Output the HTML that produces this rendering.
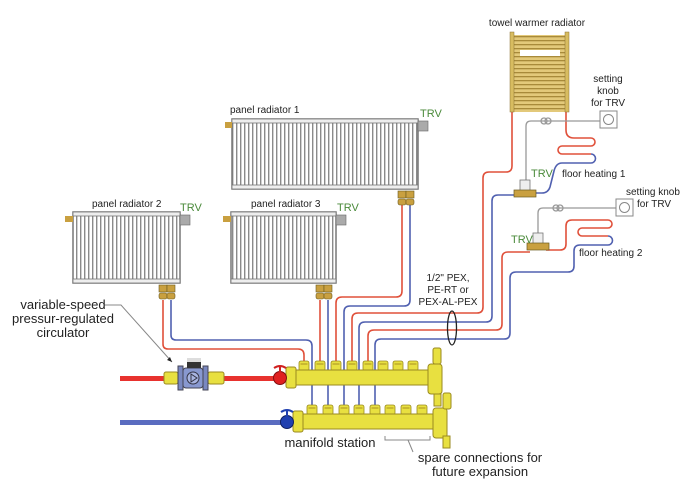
<!DOCTYPE html>
<html><head><meta charset="utf-8"><style>
html,body{margin:0;padding:0;background:#fff;}
svg{display:block;font-family:"Liberation Sans",sans-serif;}
</style></head><body>
<svg width="692" height="503" viewBox="0 0 692 503" xmlns="http://www.w3.org/2000/svg">
<defs>
<pattern id="fins" width="4" height="10" patternUnits="userSpaceOnUse">
<rect width="4" height="10" fill="#fff"/><rect x="0" width="1.4" height="10" fill="#8a8a8a"/>
</pattern>
<pattern id="tw" width="10" height="4" patternUnits="userSpaceOnUse">
<rect width="10" height="4" fill="#e3c97a"/><rect y="0" width="10" height="1.3" fill="#a88a3a"/>
</pattern>
<g id="fit"><rect x="-5" y="0" width="10" height="10" rx="2" fill="#e8e040" stroke="#9a8a20" stroke-width="0.8"/><rect x="-3.5" y="2" width="7" height="2" fill="#c9b830"/></g>
<g id="rv"><rect x="-4" y="0" width="8" height="7" fill="#c9a040" stroke="#6a5a20" stroke-width="0.6"/><rect x="-4" y="8" width="8" height="6" rx="2" fill="#c9a040" stroke="#6a5a20" stroke-width="0.6"/></g>
</defs>

<!-- pipes (thin) -->
<g fill="none" stroke-width="1.6">
<path d="M163 300 V344 q0 5 5 5 H298 q6 0 6 6 V362" stroke="#e0503a"/>
<path d="M171 300 V335 q0 5 5 5 H306 q6 0 6 6 V408" stroke="#5060b0"/>
<path d="M320 300 V362" stroke="#e0503a"/>
<path d="M328 300 V408" stroke="#5060b0"/>
<path d="M402 205 V291 q0 6 -6 6 H342 q-6 0 -6 6 V362" stroke="#e0503a"/>
<path d="M410 205 V300 q0 6 -6 6 H350 q-6 0 -6 6 V408" stroke="#5060b0"/>
<path d="M512 112 V166 q0 6 -6 6 H489 q-6 0 -6 6 V307 q0 6 -6 6 H358 q-6 0 -6 6 V362" stroke="#e0503a"/>
<path d="M518 195 H498 q-6 0 -6 6 V316 q0 6 -6 6 H365 q-6 0 -6 6 V408" stroke="#5060b0"/>
<path d="M530 252 H508 q-6 0 -6 6 V324 q0 6 -6 6 H374 q-6 0 -6 6 V362" stroke="#e0503a"/>
<path d="M566 112 V130 q0 8 8 8 H591 a4 4 0 0 1 0 8 H562 a4 4 0 0 0 0 8 H591" stroke="#e0503a"/>
<path d="M591 154 a4.5 4.5 0 0 1 0 9 H562 q-6 0 -8 8 L550 187 q-2 6 -8 6 H534" stroke="#5060b0"/>
<path d="M546 250 H560 q6 0 6 -6 V226 q0 -6 6 -6 H608 a4 4 0 0 1 0 8 H582 a4 4 0 0 0 0 8 H608" stroke="#e0503a"/>
<path d="M608 236 a4.5 4.5 0 0 1 0 9 H580 q-6 0 -6 6 V266 q0 6 -6 6 H516 q-6 0 -6 6 V333 q0 6 -6 6 H381 q-6 0 -6 6 V408" stroke="#5060b0"/>
</g>
<!-- capillaries -->
<g fill="none" stroke="#999" stroke-width="1.3">
<path d="M600 121 H531 q-5 0 -5 5 V180"/>
<path d="M616 208 H543 q-5 0 -5 5 V233"/>
<circle cx="544" cy="121" r="3"/><circle cx="548" cy="121" r="3"/>
<circle cx="556" cy="208" r="3"/><circle cx="560" cy="208" r="3"/>
</g>
<rect x="600" y="111" width="17" height="17" fill="#fff" stroke="#888"/><circle cx="608.5" cy="119.5" r="5" fill="none" stroke="#888"/>
<rect x="616" y="199" width="17" height="17" fill="#fff" stroke="#888"/><circle cx="624.5" cy="207.5" r="5" fill="none" stroke="#888"/>
<!-- TRV valves for floor heating -->
<rect x="520" y="180" width="10" height="11" fill="#eee" stroke="#777" stroke-width="0.8"/>
<rect x="514" y="190" width="22" height="7" fill="#c9a040" stroke="#6a5a20" stroke-width="0.7"/>
<rect x="533" y="233" width="10" height="11" fill="#eee" stroke="#777" stroke-width="0.8"/>
<rect x="527" y="243" width="22" height="7" fill="#c9a040" stroke="#6a5a20" stroke-width="0.7"/>

<!-- towel radiator -->
<rect x="513" y="35" width="53" height="77" fill="url(#tw)"/>
<rect x="520" y="50" width="40" height="6" fill="#fff"/>
<rect x="510" y="32" width="4" height="80" fill="#d8bc60" stroke="#8a7030" stroke-width="0.5"/>
<rect x="565" y="32" width="4" height="80" fill="#d8bc60" stroke="#8a7030" stroke-width="0.5"/>

<!-- panel radiators -->
<rect x="232" y="119" width="186" height="70" fill="url(#fins)" stroke="#777" stroke-width="1.5"/>
<rect x="232" y="119" width="186" height="4" fill="#eee" stroke="#777" stroke-width="0.8"/>
<rect x="232" y="185" width="186" height="4" fill="#eee" stroke="#777" stroke-width="0.8"/>
<rect x="225" y="122" width="7" height="6" fill="#c9a040"/>
<rect x="418" y="121" width="10" height="10" fill="#aaa" stroke="#666" stroke-width="0.6"/>
<use href="#rv" x="402" y="191"/><use href="#rv" x="410" y="191"/>

<rect x="73" y="212" width="107" height="71" fill="url(#fins)" stroke="#777" stroke-width="1.5"/>
<rect x="73" y="212" width="107" height="4" fill="#eee" stroke="#777" stroke-width="0.8"/>
<rect x="73" y="279" width="107" height="4" fill="#eee" stroke="#777" stroke-width="0.8"/>
<rect x="65" y="216" width="8" height="6" fill="#c9a040"/>
<rect x="180" y="215" width="10" height="10" fill="#aaa" stroke="#666" stroke-width="0.6"/>
<use href="#rv" x="163" y="285"/><use href="#rv" x="171" y="285"/>

<rect x="231" y="212" width="105" height="71" fill="url(#fins)" stroke="#777" stroke-width="1.5"/>
<rect x="231" y="212" width="105" height="4" fill="#eee" stroke="#777" stroke-width="0.8"/>
<rect x="231" y="279" width="105" height="4" fill="#eee" stroke="#777" stroke-width="0.8"/>
<rect x="223" y="216" width="8" height="6" fill="#c9a040"/>
<rect x="336" y="215" width="10" height="10" fill="#aaa" stroke="#666" stroke-width="0.6"/>
<use href="#rv" x="320" y="285"/><use href="#rv" x="328" y="285"/>

<!-- main pipes -->
<rect x="120" y="376" width="160" height="5" fill="#e8322e"/>
<rect x="120" y="420" width="165" height="5" fill="#5a6cc0"/>
<!-- circulator -->
<rect x="164" y="372" width="14" height="12" rx="2" fill="#e8e040" stroke="#9a8a20"/>
<rect x="208" y="372" width="16" height="12" rx="2" fill="#e8e040" stroke="#9a8a20"/>
<rect x="178" y="366" width="5" height="24" fill="#7a88c0" stroke="#445"/>
<rect x="203" y="366" width="5" height="24" fill="#7a88c0" stroke="#445"/>
<rect x="183" y="368" width="20" height="20" rx="3" fill="#8898d0" stroke="#445"/>
<circle cx="193" cy="378" r="6" fill="#a8b4e0" stroke="#334"/>
<path d="M191 374 L197 378 L191 382 Z" fill="none" stroke="#334"/>
<rect x="187" y="358" width="14" height="10" fill="#333"/><rect x="187" y="358" width="14" height="4" fill="#ddd"/>

<!-- supply manifold -->
<g>
<use href="#fit" x="304" y="361"/><use href="#fit" x="320" y="361"/><use href="#fit" x="336" y="361"/><use href="#fit" x="352" y="361"/><use href="#fit" x="368" y="361"/><use href="#fit" x="383" y="361"/><use href="#fit" x="398" y="361"/><use href="#fit" x="413" y="361"/>
<rect x="290" y="370" width="140" height="15" fill="#e8e040" stroke="#9a8a20"/>
<rect x="286" y="367" width="10" height="21" rx="2" fill="#e8e040" stroke="#9a8a20"/>
<circle cx="280" cy="378" r="6.5" fill="#e02020" stroke="#801010"/>
<path d="M274 368 q6 -4 12 0 M280 366 V372" stroke="#d02020" stroke-width="2" fill="none"/>
<rect x="428" y="364" width="14" height="30" rx="3" fill="#e8e040" stroke="#9a8a20"/>
<rect x="433" y="348" width="8" height="16" rx="2" fill="#e8e040" stroke="#9a8a20"/>
<rect x="434" y="394" width="7" height="12" fill="#e8e040" stroke="#9a8a20"/>
</g>
<!-- return manifold -->
<g>
<use href="#fit" x="312" y="405"/><use href="#fit" x="328" y="405"/><use href="#fit" x="344" y="405"/><use href="#fit" x="359" y="405"/><use href="#fit" x="375" y="405"/><use href="#fit" x="390" y="405"/><use href="#fit" x="406" y="405"/><use href="#fit" x="422" y="405"/>
<rect x="298" y="414" width="136" height="15" fill="#e8e040" stroke="#9a8a20"/>
<rect x="293" y="411" width="10" height="21" rx="2" fill="#e8e040" stroke="#9a8a20"/>
<circle cx="287" cy="422" r="6.5" fill="#2040b0" stroke="#102060"/>
<path d="M281 412 q6 -4 12 0 M287 410 V416" stroke="#2040b0" stroke-width="2" fill="none"/>
<rect x="433" y="408" width="14" height="30" rx="3" fill="#e8e040" stroke="#9a8a20"/>
<rect x="443" y="393" width="8" height="16" rx="2" fill="#e8e040" stroke="#9a8a20"/>
<rect x="443" y="436" width="7" height="12" fill="#e8e040" stroke="#9a8a20"/>
</g>

<!-- ellipse -->
<ellipse cx="452" cy="328" rx="4.5" ry="17" fill="none" stroke="#222" stroke-width="1.3"/>
<!-- bracket -->
<path d="M385 436 V440 H430 V436 M408 440 L413 452" fill="none" stroke="#888" stroke-width="1"/>
<!-- leader -->
<path d="M104 305 H121 L172 362" fill="none" stroke="#888" stroke-width="1"/>
<path d="M172 362 l-5 -2 l3 -3 z" fill="#222"/>

<!-- labels -->
<g font-size="10" fill="#222">
<text x="230" y="113">panel radiator 1</text>
<text x="92" y="207">panel radiator 2</text>
<text x="251" y="207">panel radiator 3</text>
<text x="537" y="26" text-anchor="middle">towel warmer radiator</text>
<text x="608" y="82" text-anchor="middle">setting</text>
<text x="608" y="94" text-anchor="middle">knob</text>
<text x="608" y="106" text-anchor="middle">for TRV</text>
<text x="626" y="195">setting knob</text>
<text x="637" y="207">for TRV</text>
<text x="562" y="177">floor heating 1</text>
<text x="579" y="256">floor heating 2</text>
<text x="448" y="281" text-anchor="middle">1/2" PEX,</text>
<text x="448" y="293" text-anchor="middle">PE-RT or</text>
<text x="448" y="305" text-anchor="middle">PEX-AL-PEX</text>
</g>
<g font-size="11" fill="#4a8a3a">
<text x="420" y="117">TRV</text>
<text x="180" y="211">TRV</text>
<text x="337" y="211">TRV</text>
<text x="531" y="177">TRV</text>
<text x="511" y="243">TRV</text>
</g>
<g font-size="13" fill="#222" text-anchor="middle">
<text x="63" y="309">variable-speed</text>
<text x="63" y="323">pressur-regulated</text>
<text x="63" y="337">circulator</text>
<text x="330" y="447">manifold station</text>
<text x="480" y="462">spare connections for</text>
<text x="480" y="476">future expansion</text>
</g>
</svg>
</body></html>
